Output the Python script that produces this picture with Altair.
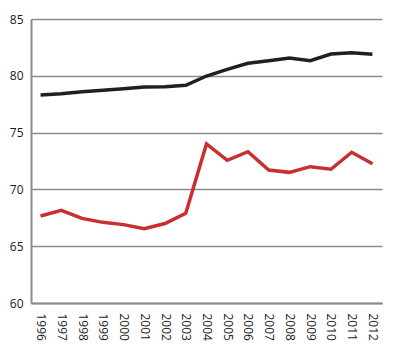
import altair as alt
import pandas as pd

years = [str(y) for y in range(1996, 2013)]
black_vals = [78.31, 78.42, 78.6, 78.72, 78.87, 79.01, 79.04, 79.16, 79.98, 80.57,
              81.1, 81.33, 81.57, 81.33, 81.92, 82.03, 81.89]
red_vals = [67.66, 68.16, 67.45, 67.1, 66.9, 66.54, 67.0, 67.9, 74.0, 72.56,
            73.32, 71.71, 71.5, 72.0, 71.77, 73.27, 72.26]
series_names = ["A", "B"]
series_colors = ["#231f20", "#c8302f"]

df = pd.DataFrame({
    "year": years * 2,
    "value": black_vals + red_vals,
    "series": [series_names[0]] * len(years) + [series_names[1]] * len(years),
})

chart = alt.Chart(df).mark_line(strokeWidth=3.5, strokeJoin="miter").encode(
    x=alt.X("year:O", scale=alt.Scale(type="point", padding=0.46),
            axis=alt.Axis(title=None, labelAngle=90, labelAlign="left", labelBaseline="middle",
                          labelPadding=10, ticks=False, domain=True, domainColor="#8c8c8c",
                          domainWidth=2, labelFont="Open Sans", labelFontSize=12,
                          labelColor="#1a1a1a", grid=False)),
    y=alt.Y("value:Q", scale=alt.Scale(domain=[60, 85], nice=False, zero=False),
            axis=alt.Axis(title=None, values=[60, 65, 70, 75, 80, 85], ticks=False,
                          domain=True, domainColor="#8c8c8c", domainWidth=2,
                          grid=True, gridColor="#8c8c8c", gridWidth=1.5,
                          labelPadding=8, labelFont="Open Sans", labelFontSize=12,
                          labelColor="#1a1a1a")),
    color=alt.Color("series:N", scale=alt.Scale(domain=series_names, range=series_colors),
                    legend=None),
).properties(
    width=351, height=284,
    autosize=alt.AutoSizeParams(type="none"),
    padding={"left": 23, "top": 11, "right": 10, "bottom": 50},
).configure_view(strokeWidth=0, stroke="transparent")

chart.save("out.html", embed_options={"renderer": "svg", "actions": False})
